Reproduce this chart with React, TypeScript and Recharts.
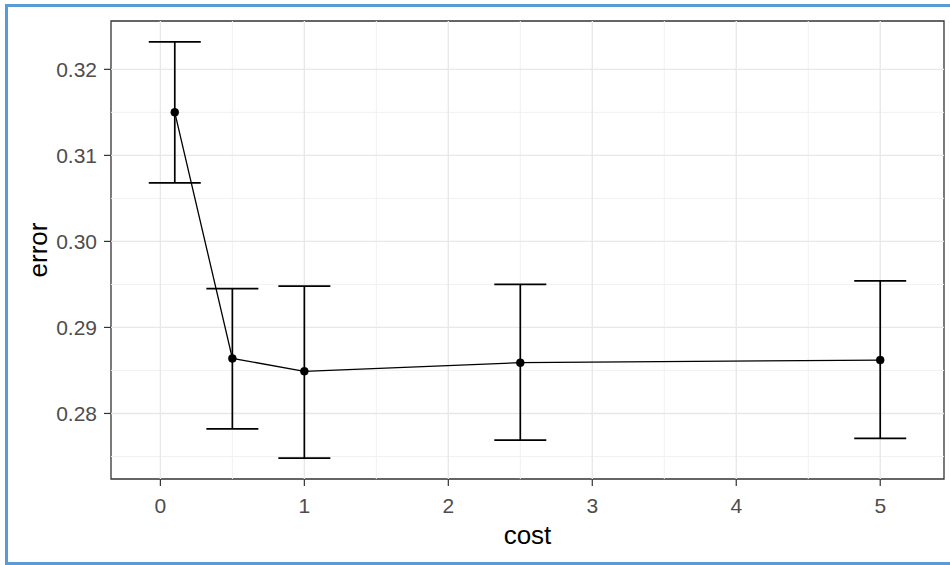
import React from 'react';
import {
  ComposedChart,
  Line,
  XAxis,
  YAxis,
  ErrorBar,
  ReferenceLine,
  ReferenceArea,
  Label,
} from 'recharts';

// ---- data ----
const costs = [0.1, 0.5, 1, 2.5, 5];
const errorMean = [0.315, 0.2864, 0.2849, 0.2859, 0.2862];
const errorUpper = [0.3232, 0.2945, 0.2948, 0.295, 0.2954];
const errorLower = [0.3068, 0.2782, 0.2748, 0.2769, 0.2771];

const xTicks = [0, 1, 2, 3, 4, 5];
const yTicks = [0.28, 0.29, 0.3, 0.31, 0.32];
const xMinor = [0.5, 1.5, 2.5, 3.5, 4.5];
const yMinor = [0.275, 0.285, 0.295, 0.305, 0.315];
const capHalf = 0.18; // errorbar half width in data units (ggplot default)

const tableData = costs.map((c, i) => ({
  cost: c,
  error: errorMean[i],
  err: [errorMean[i] - errorLower[i], errorUpper[i] - errorMean[i]],
}));

// ggplot-like 5% expansion of the data range
const xLo = Math.min(...costs) - capHalf;
const xHi = Math.max(...costs) + capHalf;
const xPad = (xHi - xLo) * 0.05;
const xDomain = [xLo - xPad, xHi + xPad];
const yLo = Math.min(...errorLower);
const yHi = Math.max(...errorUpper);
const yPad = (yHi - yLo) * 0.05;
const yDomain = [yLo - yPad, yHi + yPad];

const FONT = '"Liberation Sans", Arial, sans-serif';
const TICK_COLOR = '#4D4D4D';
const GRID_MAJOR = '#E8E8E8';
const GRID_MINOR = '#F1F1F1';

const YTitle = (props: any) => {
  const vb = props.viewBox || { x: 0, y: 21, width: 111, height: 458 };
  const bx = vb.x + 47;
  const cy = vb.y + vb.height / 2;
  return (
    <text
      x={bx}
      y={cy}
      transform={`rotate(-90, ${bx}, ${cy})`}
      textAnchor="middle"
      fontSize={26}
      fontFamily={FONT}
      fill="#000"
    >
      error
    </text>
  );
};

const XTitle = (props: any) => {
  const vb = props.viewBox || { x: 111, y: 479, width: 833, height: 86 };
  return (
    <text
      x={vb.x + vb.width / 2}
      y={vb.y + 65}
      textAnchor="middle"
      fontSize={26}
      fontFamily={FONT}
      fill="#000"
    >
      cost
    </text>
  );
};

const FRAME = '3px solid #5B9BD5';

export default function App() {
  return (
    <div
      style={{
        position: 'absolute',
        left: 0,
        top: 0,
        width: 950,
        height: 565,
        background: '#fff',
        overflow: 'hidden',
      }}
    >
      <div
        style={{
          position: 'absolute',
          left: 5,
          top: 4,
          width: 945,
          height: 561,
          boxSizing: 'border-box',
          borderTop: FRAME,
          borderLeft: FRAME,
          borderBottom: FRAME,
          borderRight: 'none',
        }}
      />
      <div style={{ position: 'absolute', left: 0, top: 0 }}>
        <ComposedChart
          width={950}
          height={565}
          data={tableData}
          margin={{ top: 21, right: 6, bottom: 0, left: 0 }}
          style={{ fontFamily: FONT }}
        >
          <XAxis
            dataKey="cost"
            type="number"
            domain={xDomain}
            ticks={xTicks}
            interval={0}
            allowDataOverflow
            height={86}
            axisLine={false}
            tickLine={{ stroke: '#333333', strokeWidth: 1.2 }}
            tickSize={7}
            tickMargin={12}
            tick={{ fill: TICK_COLOR, fontSize: 21, fontFamily: FONT }}
          >
            <Label content={XTitle} />
          </XAxis>
          <YAxis
            type="number"
            domain={yDomain}
            ticks={yTicks}
            interval={0}
            allowDataOverflow
            width={111}
            axisLine={false}
            tickLine={{ stroke: '#333333', strokeWidth: 1.2 }}
            tickSize={7}
            tickMargin={7}
            tickFormatter={(v: number) => v.toFixed(2)}
            tick={{ fill: TICK_COLOR, fontSize: 21, fontFamily: FONT }}
          >
            <Label content={YTitle} />
          </YAxis>

          {yMinor.map((v) => (
            <ReferenceLine key={'ym' + v} y={v} stroke={GRID_MINOR} strokeWidth={1} />
          ))}
          {xMinor.map((v) => (
            <ReferenceLine key={'xm' + v} x={v} stroke={GRID_MINOR} strokeWidth={1} />
          ))}
          {yTicks.map((v) => (
            <ReferenceLine key={'yM' + v} y={v} stroke={GRID_MAJOR} strokeWidth={1.4} />
          ))}
          {xTicks.map((v) => (
            <ReferenceLine key={'xM' + v} x={v} stroke={GRID_MAJOR} strokeWidth={1.4} />
          ))}

          <Line
            type="linear"
            dataKey="error"
            stroke="#000"
            strokeWidth={1.3}
            dot={{ r: 4, fill: '#000', stroke: '#000', strokeWidth: 0.5 }}
            activeDot={false}
            isAnimationActive={false}
          >
            <ErrorBar dataKey="err" direction="y" width={26} stroke="#000" strokeWidth={1.7} isAnimationActive={false} />
          </Line>

          <ReferenceArea
            x1={xDomain[0]}
            x2={xDomain[1]}
            y1={yDomain[0]}
            y2={yDomain[1]}
            fill="none"
            fillOpacity={0}
            stroke="#333333"
            strokeWidth={1.3}
          />
        </ComposedChart>
      </div>
    </div>
  );
}
